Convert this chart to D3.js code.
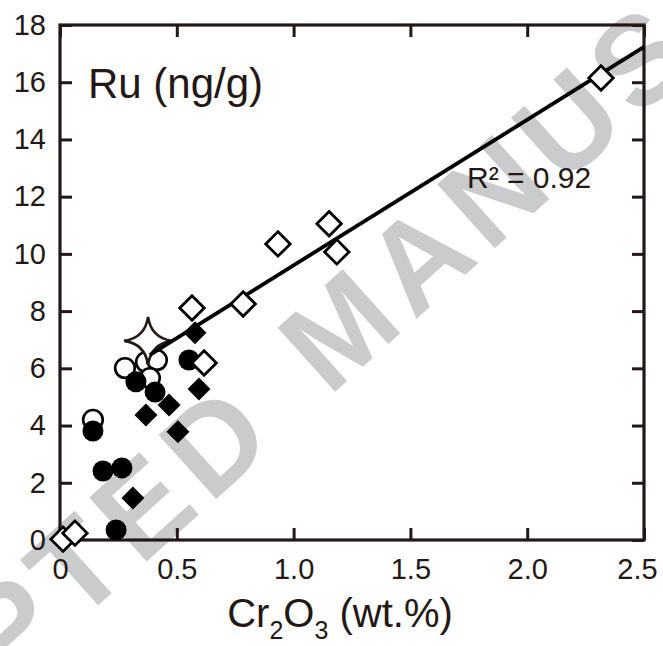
<!DOCTYPE html>
<html>
<head>
<meta charset="utf-8">
<script src="https://cdn.jsdelivr.net/npm/d3@7"></script>
<style>
  body { margin: 0; background: #fff; }
  text { font-family: 'Liberation Sans', Arial, sans-serif; fill: #231815; }
</style>
</head>
<body>
<script>
// Cr2O3 (wt.%) vs Ru (ng/g)
const openDiamonds = [[0.013, 0.03], [0.064, 0.24], [0.565, 8.11], [0.617, 6.19], [0.784, 8.25], [0.933, 10.35], [1.152, 11.05], [1.185, 10.07], [2.316, 16.15]]
const filledDiamonds = [[0.578, 7.24], [0.595, 5.28], [0.368, 4.37], [0.467, 4.72], [0.505, 3.78], [0.312, 1.47]]
const openCircles = [[0.141, 4.2], [0.278, 6.01], [0.368, 6.22], [0.415, 6.29], [0.385, 5.66]]
const filledCircles = [[0.141, 3.81], [0.184, 2.41], [0.265, 2.52], [0.24, 0.35], [0.325, 5.53], [0.407, 5.17], [0.552, 6.29]]
const starPoints = [[0.377, 6.96]]
const fit = { slope: 5.09, intercept: 4.51, from: 0.385, to: 2.5, label: 'R² = 0.92' }
const xTicks = [0, 0.5, 1.0, 1.5, 2.0, 2.5]
const xTickLabels = ['0', '0.5', '1.0', '1.5', '2.0', '2.5']
const yTicks = [0, 2, 4, 6, 8, 10, 12, 14, 16, 18]
const watermarkWords = ['ACCEPTED', 'MANUSCRIPT']

const width = 663
const height = 646
const ink = '#231815'

const svg = d3.select('body').append('svg')
  .attr('width', width)
  .attr('height', height)

const x = d3.scaleLinear().domain([0, 2.5]).range([60, 644])
const y = d3.scaleLinear().domain([0, 18]).range([540, 25])

// watermark behind everything, two words around a gap
const watermark = svg.append('g')
  .attr('transform', 'translate(300,365) rotate(-42)')
  .selectAll('text')
  .data(watermarkWords)
  .enter()
  .append('text')
  .text(d => d)
  .attr('x', (d, i) => i === 0 ? -60 : 0)
  .attr('text-anchor', (d, i) => i === 0 ? 'end' : 'start')
  .attr('dominant-baseline', 'central')
  .style('font-size', '125px')
  .style('font-weight', 'bold')
  .style('letter-spacing', '10px')
  .style('fill', '#cacbcc')

// axes, ticks point inward
const axisStyle = g => {
  g.select('.domain').remove()
  g.selectAll('.tick line').attr('stroke', ink).attr('stroke-width', 3)
  g.selectAll('.tick text').style('font-size', '29px').attr('fill', ink)
}

svg.append('g')
  .attr('transform', `translate(0,${y(0)})`)
  .call(d3.axisBottom(x).tickValues(xTicks).tickFormat((d, i) => xTickLabels[i]).tickSize(-12).tickPadding(18))
  .call(axisStyle)
  .selectAll('.tick text')
  .attr('x', d => d === 2.5 ? -7 : 0)

svg.append('g')
  .attr('transform', `translate(0,${y(18)})`)
  .call(d3.axisTop(x).tickValues(xTicks).tickFormat('').tickSize(-12))
  .call(axisStyle)

svg.append('g')
  .attr('transform', `translate(${x(0)},0)`)
  .call(d3.axisLeft(y).tickValues(yTicks).tickSize(-12).tickPadding(14))
  .call(axisStyle)

svg.append('g')
  .attr('transform', `translate(${x(2.5)},0)`)
  .call(d3.axisRight(y).tickValues(yTicks).tickFormat('').tickSize(-12))
  .call(axisStyle)

// frame
svg.append('rect')
  .attr('x', x(0))
  .attr('y', y(18))
  .attr('width', x(2.5) - x(0))
  .attr('height', y(0) - y(18))
  .attr('fill', 'none')
  .attr('stroke', ink)
  .attr('stroke-width', 3.2)

// axis titles
svg.append('text')
  .attr('x', 88)
  .attr('y', 98)
  .style('font-size', '42px')
  .text('Ru (ng/g)')

const xTitle = svg.append('text')
  .attr('x', 340)
  .attr('y', 627)
  .attr('text-anchor', 'middle')
  .style('font-size', '40px')
xTitle.append('tspan').text('Cr')
xTitle.append('tspan').text('2').attr('dy', 12).style('font-size', '25px')
xTitle.append('tspan').text('O').attr('dy', -12)
xTitle.append('tspan').text('3').attr('dy', 12).style('font-size', '25px')
xTitle.append('tspan').text(' (wt.%)').attr('dy', -12)

// points
const plot = svg.append('g')

plot.selectAll('circle.open')
  .data(openCircles)
  .enter()
  .append('circle')
  .attr('class', 'open')
  .attr('cx', d => x(d[0]))
  .attr('cy', d => y(d[1]))
  .attr('r', 9.8)
  .attr('fill', '#fff')
  .attr('stroke', '#000')
  .attr('stroke-width', 2.6)

plot.selectAll('circle.filled')
  .data(filledCircles)
  .enter()
  .append('circle')
  .attr('class', 'filled')
  .attr('cx', d => x(d[0]))
  .attr('cy', d => y(d[1]))
  .attr('r', 10.5)
  .attr('fill', '#000')

// four-pointed star
const R = 24
const c = 3
const starPath = `M0,${-R}Q${c},${-c} ${R},0Q${c},${c} 0,${R}Q${-c},${c} ${-R},0Q${-c},${-c} 0,${-R}Z`
plot.selectAll('path.star')
  .data(starPoints)
  .enter()
  .append('path')
  .attr('class', 'star')
  .attr('d', starPath)
  .attr('transform', d => `translate(${x(d[0])},${y(d[1])})`)
  .attr('fill', '#fff')
  .attr('stroke', ink)
  .attr('stroke-width', 2.6)

// regression line
const line = d3.line().x(d => x(d)).y(d => y(fit.slope * d + fit.intercept))
plot.append('path')
  .attr('d', line([fit.from, fit.to]))
  .attr('stroke', '#000')
  .attr('stroke-width', 3.8)
  .attr('fill', 'none')

svg.append('text')
  .attr('x', 467)
  .attr('y', 188)
  .style('font-size', '30px')
  .attr('fill', '#000')
  .text(fit.label)

const diamond = d3.symbol().type(d3.symbolSquare)
plot.selectAll('path.open-diamond')
  .data(openDiamonds)
  .enter()
  .append('path')
  .attr('class', 'open-diamond')
  .attr('d', diamond.size(300)())
  .attr('transform', d => `translate(${x(d[0])},${y(d[1])}) rotate(45)`)
  .attr('fill', '#fff')
  .attr('stroke', '#000')
  .attr('stroke-width', 2.8)

plot.selectAll('path.filled-diamond')
  .data(filledDiamonds)
  .enter()
  .append('path')
  .attr('class', 'filled-diamond')
  .attr('d', diamond.size(265)())
  .attr('transform', d => `translate(${x(d[0])},${y(d[1])}) rotate(45)`)
  .attr('fill', '#000')
</script>
</body>
</html>
